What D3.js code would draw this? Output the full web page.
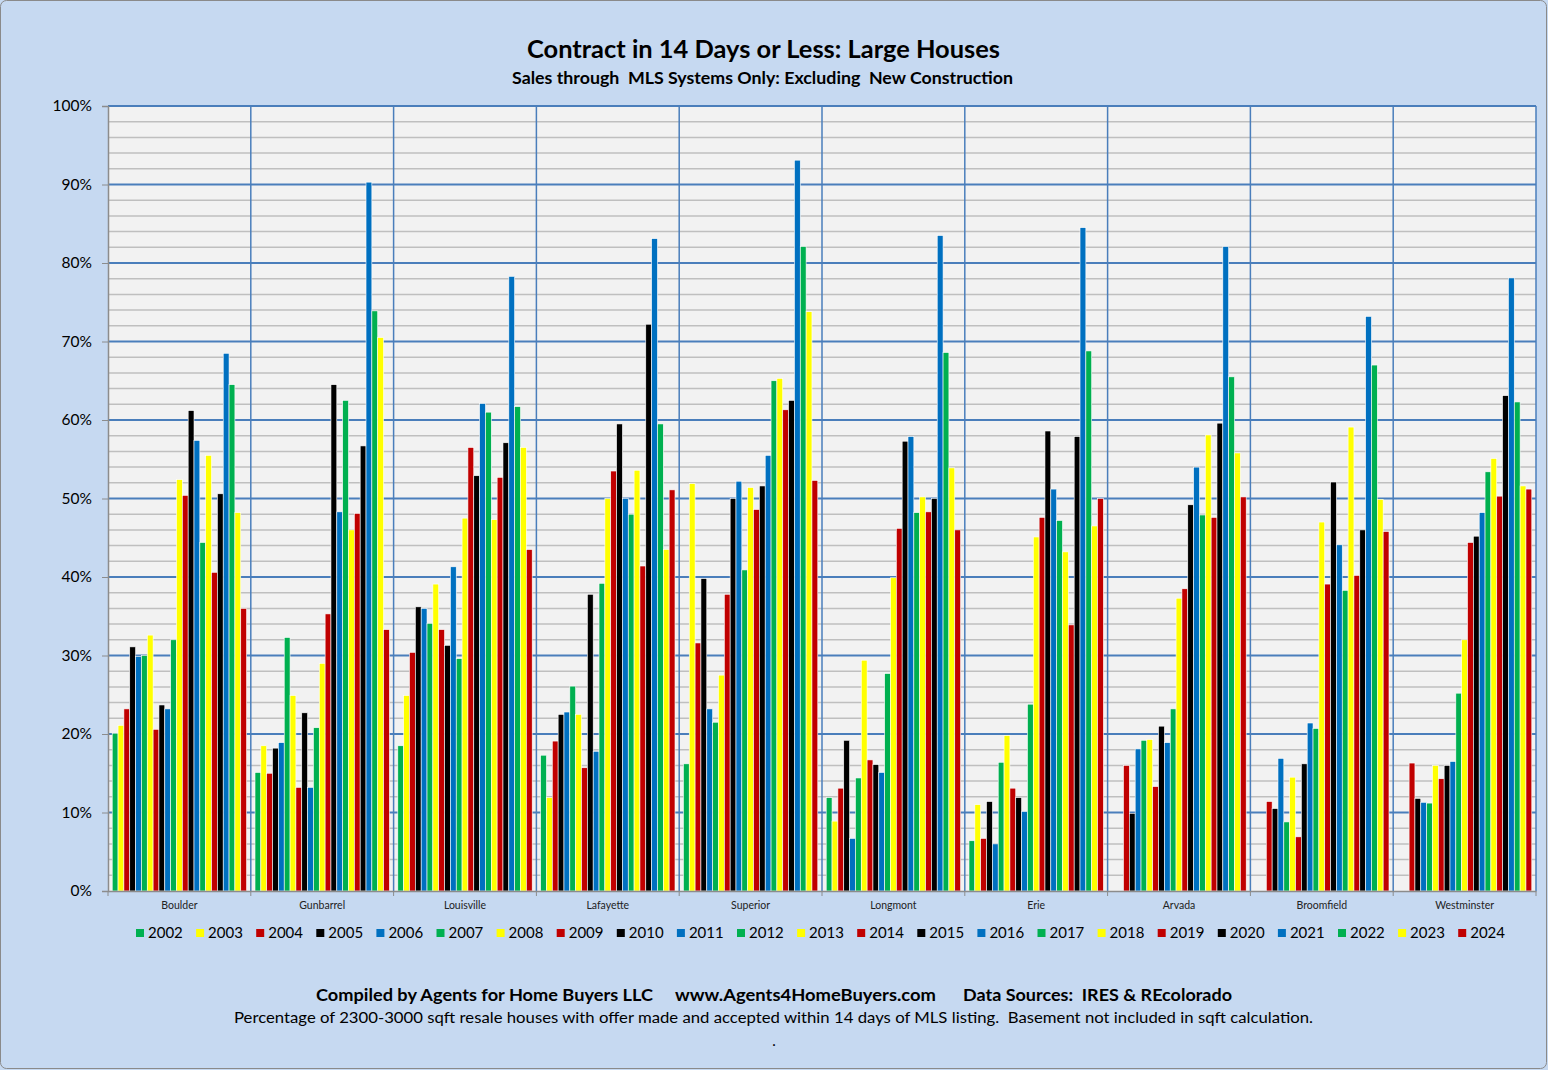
<!DOCTYPE html>
<html>
<head>
<meta charset="utf-8">
<script src="https://cdn.jsdelivr.net/npm/d3@7"></script>
<style>
  body { margin: 0; background: #c6d9f1; }
  svg { display: block; font-family: Lato, "Open Sans", sans-serif; }
</style>
</head>
<body>
<div id="container"></div>
<script>
/* DATA */
const cities = ["Boulder", "Gunbarrel", "Louisville", "Lafayette", "Superior",
    "Longmont", "Erie", "Arvada", "Broomfield", "Westminster"]
const years = d3.range(2002, 2025).map(String)
const yearColors = ["#00b050", "#ffff00", "#c00000", "#000000", "#0070c0"]
const yTicks = [0, 0.1, 0.2, 0.3, 0.4, 0.5, 0.6, 0.7, 0.8, 0.9, 1]

// percent values, 2002 -> 2024 (null = no bar)
const boulder = [20.1, 21.1, 23.2, 31.1, 29.9, 30.0, 32.6, 20.6, 23.7, 23.2, 32.0, 52.4, 50.4, 61.2, 57.4, 44.4, 55.5, 40.6, 50.6, 68.5, 64.5, 48.2, 36.0]
const gunbarrel = [15.1, 18.5, 15.0, 18.2, 18.9, 32.3, 24.9, 13.2, 22.7, 13.2, 20.8, 29.0, 35.3, 64.5, 48.3, 62.5, 46.0, 48.1, 56.7, 90.3, 73.9, 70.5, 33.3]
const louisville = [18.5, 24.9, 30.4, 36.2, 36.0, 34.1, 39.1, 33.3, 31.3, 41.3, 29.6, 47.5, 56.5, 52.9, 62.1, 61.0, 47.3, 52.7, 57.1, 78.3, 61.7, 56.5, 43.5]
const lafayette = [17.3, 11.9, 19.1, 22.5, 22.8, 26.1, 22.5, 15.7, 37.8, 17.8, 39.2, 50.0, 53.5, 59.5, 50.0, 48.0, 53.6, 41.4, 72.2, 83.1, 59.5, 43.5, 51.1]
const superior = [16.2, 51.9, 31.6, 39.8, 23.2, 21.5, 27.5, 37.8, 50.0, 52.2, 40.9, 51.4, 48.6, 51.6, 55.5, 65.0, 65.3, 61.3, 62.5, 93.1, 82.1, 73.8, 52.3]
const longmont = [11.9, 8.9, 13.1, 19.2, 6.7, 14.4, 29.4, 16.7, 16.1, 15.1, 27.7, 39.9, 46.2, 57.3, 57.9, 48.2, 50.2, 48.3, 50.0, 83.5, 68.6, 53.9, 46.0]
const erie = [6.4, 11.0, 6.7, 11.4, 6.0, 16.4, 19.8, 13.1, 11.9, 10.1, 23.8, 45.1, 47.6, 58.6, 51.2, 47.2, 43.2, 33.9, 57.9, 84.5, 68.8, 46.5, 50.0]
const arvada = [null, null, 16.0, 9.9, 18.1, 19.2, 19.3, 13.3, 21.0, 18.9, 23.2, 37.3, 38.5, 49.2, 54.0, 47.9, 58.1, 47.6, 59.6, 82.1, 65.5, 55.8, 50.2]
const broomfield = [null, null, 11.4, 10.5, 16.9, 8.8, 14.5, 6.9, 16.2, 21.4, 20.7, 47.0, 39.1, 52.1, 44.1, 38.3, 59.1, 40.2, 46.0, 73.2, 67.0, 49.9, 45.8]
const westminster = [null, null, 16.3, 11.8, 11.3, 11.2, 16.0, 14.3, 16.0, 16.5, 25.2, 32.0, 44.4, 45.2, 48.2, 53.4, 55.1, 50.3, 63.1, 78.1, 62.3, 51.6, 51.2]

const cityValues = [boulder, gunbarrel, louisville, lafayette, superior,
    longmont, erie, arvada, broomfield, westminster]

/* CONSTANTS */
const width = 1548,
    height = 1070,
    plot = { left: 108, right: 1536, top: 106, bottom: 891 }

const rows = []
cities.forEach((city, i) => {
    years.forEach((year, j) => {
        const v = cityValues[i][j]
        if (v != null) rows.push({ city, year, value: v / 100 })
    })
})

//SCALES
const x0 = d3.scaleBand()
    .domain(cities)
    .range([plot.left, plot.right])

const x1 = d3.scaleBand()
    .domain(years)
    .range([0, x0.bandwidth()])
    .paddingOuter(0.72)

const yScale = d3.scaleLinear()
    .domain([0, 1])
    .range([plot.bottom, plot.top])

const color = d3.scaleOrdinal()
    .domain(years)
    .range(years.map((d, i) => yearColors[i % 5]))

//SVG
const svg = d3.select("#container")
    .append("svg")
    .attr("width", width)
    .attr("height", height)

svg.append("rect")
    .attr("x", 0.5).attr("y", 0.5)
    .attr("width", width - 2).attr("height", height - 2)
    .attr("rx", 6)
    .attr("fill", "#c6d9f1")
    .attr("stroke", "#8a8a8a")

// plot background
svg.append("rect")
    .attr("x", plot.left)
    .attr("y", plot.top)
    .attr("width", plot.right - plot.left)
    .attr("height", plot.bottom - plot.top)
    .attr("fill", "#f2f2f2")

// minor gridlines every 2%
svg.append("g")
    .selectAll("line")
    .data(d3.range(0.02, 1, 0.02).filter(d => Math.round(d * 100) % 10 !== 0))
    .join("line")
    .attr("x1", plot.left).attr("x2", plot.right)
    .attr("y1", d => yScale(d)).attr("y2", d => yScale(d))
    .attr("stroke", "#bfbfbf")
    .attr("stroke-width", 1.5)

// major gridlines
svg.append("g")
    .selectAll("line")
    .data(yTicks.slice(1))
    .join("line")
    .attr("x1", plot.left).attr("x2", plot.right)
    .attr("y1", d => yScale(d)).attr("y2", d => yScale(d))
    .attr("stroke", "#4a7ebb")
    .attr("stroke-width", 2)

// vertical category separators
svg.append("g")
    .selectAll("line")
    .data(cities.slice(1).concat(["end"]))
    .join("line")
    .attr("x1", d => d === "end" ? plot.right : x0(d))
    .attr("x2", d => d === "end" ? plot.right : x0(d))
    .attr("y1", plot.top).attr("y2", plot.bottom)
    .attr("stroke", "#4a7ebb")
    .attr("stroke-width", 1.5)

// BARS
svg.append("g")
    .selectAll("rect")
    .data(rows)
    .join("rect")
    .attr("x", d => x0(d.city) + x1(d.year))
    .attr("y", d => yScale(d.value))
    .attr("width", x1.bandwidth())
    .attr("height", d => yScale(0) - yScale(d.value))
    .attr("fill", d => color(d.year))
    .attr("stroke", "#ffffff")
    .attr("stroke-width", 0.6)

// AXES
const yAxis = d3.axisLeft(yScale)
    .tickValues(yTicks)
    .tickFormat(d3.format(".0%"))
    .tickSize(6)
    .tickPadding(10)

svg.append("g")
    .attr("class", "axis")
    .attr("transform", "translate(" + plot.left + ",0)")
    .call(yAxis)
    .call(g => g.select(".domain").attr("stroke", "#8c8c8c").attr("stroke-width", 1.5))
    .call(g => g.selectAll(".tick line").attr("stroke", "#8c8c8c"))
    .call(g => g.selectAll("text").attr("fill", "#000").style("font-size", "15.5px").style("font-family", "Lato"))

const xAxis = d3.axisBottom(x0)
    .tickSize(0)
    .tickPadding(11)

svg.append("g")
    .attr("class", "axis")
    .attr("transform", "translate(0," + plot.bottom + ")")
    .call(xAxis)
    .call(g => g.select(".domain").attr("stroke", "#8c8c8c").attr("stroke-width", 1.5))
    .call(g => g.selectAll("text").attr("fill", "#222").style("font-size", "10.5px").style("font-family", "Lato"))

// x boundary tick marks
svg.append("g")
    .selectAll("line")
    .data(cities.concat(["end"]))
    .join("line")
    .attr("x1", d => d === "end" ? plot.right : x0(d))
    .attr("x2", d => d === "end" ? plot.right : x0(d))
    .attr("y1", plot.bottom).attr("y2", plot.bottom + 5)
    .attr("stroke", "#8c8c8c")

// LEGEND
const legend = svg.append("g")
    .selectAll("g")
    .data(years)
    .join("g")
    .attr("transform", (d, i) => "translate(" + (136 + i * 60.1) + ",929)")

legend.append("rect")
    .attr("width", 8).attr("height", 8)
    .attr("fill", d => color(d))

legend.append("text")
    .attr("x", 12)
    .attr("y", 9)
    .style("font-size", "15px")
    .text(d => d)

// LABELS
const sp = s => s.replace(/  /g, " \u00a0")

svg.append("text")
    .attr("x", 763.5)
    .attr("y", 58)
    .attr("text-anchor", "middle")
    .attr("textLength", 473)
    .attr("lengthAdjust", "spacingAndGlyphs")
    .style("font-size", "24px")
    .style("font-weight", "bold")
    .text("Contract in 14 Days or Less: Large Houses")

svg.append("text")
    .attr("x", 762.5)
    .attr("y", 84)
    .attr("text-anchor", "middle")
    .attr("textLength", 501)
    .attr("lengthAdjust", "spacingAndGlyphs")
    .style("font-size", "17px")
    .style("font-weight", "bold")
    .text(sp("Sales through  MLS Systems Only: Excluding  New Construction"))

const footer = [
    { x: 316, w: 337, t: "Compiled by Agents for Home Buyers LLC" },
    { x: 675, w: 261, t: "www.Agents4HomeBuyers.com" },
    { x: 963, w: 269, t: "Data Sources:  IRES & REcolorado" }
]
svg.append("g")
    .selectAll("text")
    .data(footer)
    .join("text")
    .attr("x", d => d.x)
    .attr("y", 1001)
    .attr("textLength", d => d.w)
    .attr("lengthAdjust", "spacingAndGlyphs")
    .style("font-size", "17px")
    .style("font-weight", "bold")
    .text(d => sp(d.t))

svg.append("text")
    .attr("x", 773.5)
    .attr("y", 1023)
    .attr("text-anchor", "middle")
    .attr("textLength", 1079)
    .attr("lengthAdjust", "spacingAndGlyphs")
    .style("font-size", "16px")
    .text(sp("Percentage of 2300-3000 sqft resale houses with offer made and accepted within 14 days of MLS listing.  Basement not included in sqft calculation."))

svg.append("text")
    .attr("x", 774)
    .attr("y", 1046)
    .attr("text-anchor", "middle")
    .style("font-size", "15px")
    .text(".")
</script>
</body>
</html>
